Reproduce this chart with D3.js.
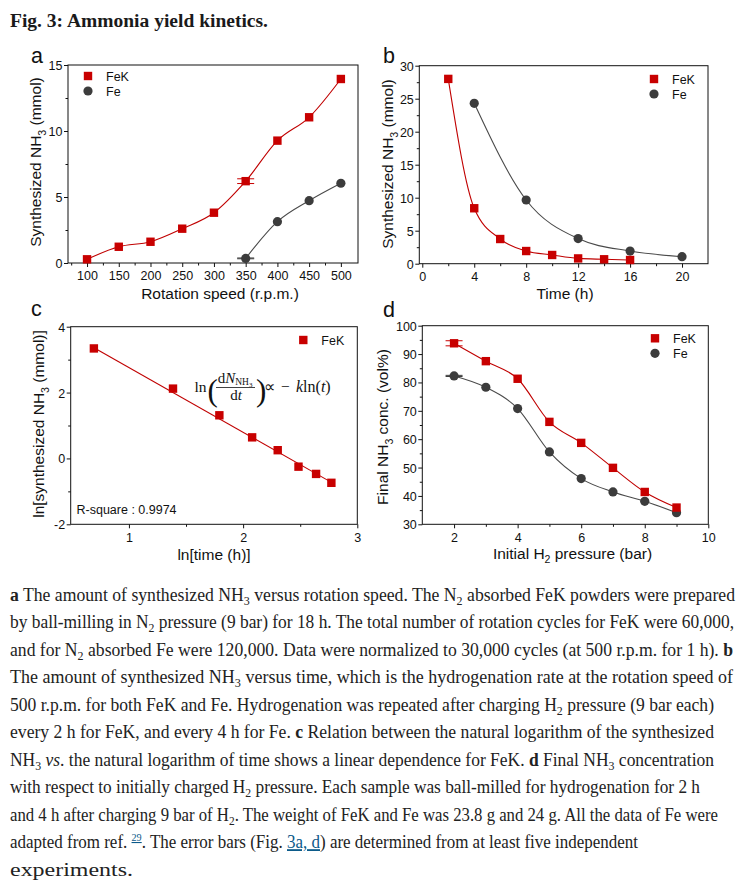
<!DOCTYPE html>
<html><head><meta charset="utf-8">
<script src="https://cdn.jsdelivr.net/npm/d3@7"></script>
<style>body{margin:0;background:#fff}svg{display:block}</style>
</head><body>
<svg id="fig" width="741" height="895"></svg>
<script>
// ---------------- data ----------------
// panel a
const aSpeedFeK = [100,150,200,250,300,350,400,450,500];
const aFeK      = [0.28,1.23,1.61,2.6,3.81,6.2,9.27,11.04,13.94];
const aSpeedFe  = [350,400,450,500];
const aFe       = [0.35,3.13,4.72,6.04];
const aErrX     = [350];
const aErrFeK   = [0.18];
const aErrFe    = [0.03];
const aXTicks   = [100,150,200,250,300,350,400,450,500];
const aYTicks   = [0,5,10,15];
// panel b
const bTimeFeK  = [2,4,6,8,10,12,14,16];
const bFeK      = [28.0,8.4,3.74,1.92,1.32,0.8,0.67,0.56];
const bTimeFe   = [4,8,12,16,20];
const bFe       = [24.3,9.65,3.8,1.92,1.06];
const bXTicks   = [0,4,8,12,16,20];
const bYTicks   = [0,5,10,15,20,25,30];
// panel c
const cLnTime   = [0.693,1.386,1.792,2.079,2.303,2.485,2.639,2.773];
const cLnNH3    = [3.34,2.12,1.31,0.64,0.25,-0.25,-0.47,-0.74];
const cFitX     = [0.69,2.77];
const cFitY     = [3.37,-0.72];
const cXTicks   = [1,2,3];
const cYTicks   = [-2,0,2,4];
// panel d
const dPressure = [2,3,4,5,6,7,8,9];
const dFeK      = [93.8,87.5,81.3,66.1,58.7,49.9,41.4,35.9];
const dFe       = [82.3,78.3,70.8,55.5,46.1,41.4,38.1,34.1];
const dErrX     = [2];
const dErrFeK   = [0.9];
const dErrFe    = [0.2];
const dXTicks   = [2,4,6,8,10];
const dYTicks   = [30,40,50,60,70,80,90,100];

// ---------------- style ----------------
const RED = "#c80000", RED_LINE = "#c00000", GREY = "#3c3c3c", GREY_LINE = "#4a4a4a";
const SANS = "'Liberation Sans', Arial, sans-serif";
const SERIF = "'Liberation Serif', 'Times New Roman', serif";
const svg = d3.select("#fig");

// title
svg.append("text").attr("x",10).attr("y",26.5)
  .attr("font-family",SERIF).attr("font-weight","bold").attr("font-size",18.5)
  .attr("fill","#1a1a1a").attr("textLength",258).attr("lengthAdjust","spacingAndGlyphs")
  .text("Fig. 3: Ammonia yield kinetics.");

function addText(g, x, y, parts, opts){
  const t = g.append("text").attr("x",x).attr("y",y)
    .attr("font-family",opts.family||SANS).attr("font-size",opts.size)
    .attr("fill",opts.fill||"#111");
  if(opts.anchor) t.attr("text-anchor",opts.anchor);
  if(opts.transform) t.attr("transform",opts.transform);
  const subShift = opts.subShift!==undefined ? opts.subShift : 0.3;
  let cur = 0;
  parts.forEach(p=>{
    const [kind,str] = p;
    let target = 0;
    const s = t.append("tspan").text(str);
    if(kind==="sub"){ target = opts.size*subShift; s.attr("font-size",opts.size*0.68); }
    if(kind==="sup"){ target = -opts.size*0.4; s.attr("font-size",opts.size*0.6); }
    if(kind==="b") s.attr("font-weight","bold");
    if(kind==="i") s.attr("font-style","italic");
    if(kind==="link"){ s.attr("fill","#0b5a8a").attr("text-decoration","underline"); }
    if(kind==="suplink"){ target = -opts.size*0.4; s.attr("font-size",opts.size*0.6).attr("fill","#0b5a8a").attr("text-decoration","underline"); }
    if(target!==cur){ s.attr("dy",target-cur); cur=target; }
  });
  return t;
}

function panel(o){
  const g = svg.append("g");
  const x = d3.scaleLinear().domain(o.xDomain).range([o.x0,o.x1]);
  const y = d3.scaleLinear().domain(o.yDomain).range([o.y1,o.y0]);
  const inside = (v,s,dm)=> Math.abs(s(v)-s(dm[0]))>2 && Math.abs(s(v)-s(dm[1]))>2;
  const xMinor = o.xMinor.filter(v=>inside(v,x,o.xDomain));
  const yMinor = o.yMinor.filter(v=>inside(v,y,o.yDomain));
  const gxm = g.append("g").attr("transform",`translate(0,${o.y1})`)
    .call(d3.axisBottom(x).tickValues(xMinor).tickSize(2.5).tickFormat(""));
  const gym = g.append("g").attr("transform",`translate(${o.x0},0)`)
    .call(d3.axisLeft(y).tickValues(yMinor).tickSize(2.5).tickFormat(""));
  const gx = g.append("g").attr("transform",`translate(0,${o.y1})`)
    .call(d3.axisBottom(x).tickValues(o.xTicks).tickSize(4).tickPadding(4.5).tickFormat(d=>String(d)));
  const gy = g.append("g").attr("transform",`translate(${o.x0},0)`)
    .call(d3.axisLeft(y).tickValues(o.yTicks).tickSize(4).tickPadding(1.5).tickFormat(d=>String(d)));
  [gxm,gym,gx,gy].forEach(a=>{
    a.select(".domain").remove();
    a.selectAll("line").attr("stroke","#111").attr("stroke-width",1);
    a.selectAll("text").attr("font-family",SANS).attr("font-size",12.5).attr("fill","#111");
  });
  gy.selectAll("text").attr("dy","0.36em");
  g.append("rect").attr("x",o.x0).attr("y",o.y0).attr("width",o.x1-o.x0).attr("height",o.y1-o.y0)
    .attr("fill","none").attr("stroke","#111").attr("stroke-width",1);
  addText(g, o.xTitlePos[0], o.xTitlePos[1], o.xTitle, {size:15.5, anchor:"middle"});
  addText(g, 0, 0, o.yTitle, {size:15.5, anchor:"middle",
    transform:`translate(${o.yTitlePos[0]},${o.yTitlePos[1]}) rotate(-90)`});
  g.append("text").attr("x",o.letterPos[0]).attr("y",o.letterPos[1])
    .attr("font-family",SANS).attr("font-size",21.5).attr("fill","#111").text(o.letter);
  return {g,x,y};
}

function square(g,cx,cy,col){ g.append("rect").attr("x",cx-4.2).attr("y",cy-4.2).attr("width",8.4).attr("height",8.4).attr("fill",col); }
function circle(g,cx,cy,col){ g.append("circle").attr("cx",cx).attr("cy",cy).attr("r",4.6).attr("fill",col); }

function series(p, xs, ys, col, lineCol, marker, curve){
  const pts = xs.map((v,i)=>[v,ys[i]]);
  p.g.append("path").datum(pts).attr("fill","none").attr("stroke",lineCol).attr("stroke-width",1.1)
    .attr("d", d3.line().x(d=>p.x(d[0])).y(d=>p.y(d[1])).curve(curve));
  pts.forEach(d=> marker(p.g, p.x(d[0]), p.y(d[1]), col));
}
function errbars(p, xs, ys, es, col){
  xs.forEach((v,i)=>{
    const cx=p.x(v), yt=p.y(ys[i]+es[i]), yb=p.y(ys[i]-es[i]);
    p.g.append("line").attr("x1",cx).attr("x2",cx).attr("y1",yt).attr("y2",yb).attr("stroke",col);
    [yt,yb].forEach(yy=> p.g.append("line").attr("x1",cx-8.5).attr("x2",cx+8.5).attr("y1",yy).attr("y2",yy).attr("stroke",col).attr("stroke-width",1));
  });
}
function legend(g, x, y, items){
  items.forEach((it,i)=>{
    const yy = y + i*15;
    (it.m==="s"?square:circle)(g, x, yy, it.c);
    g.append("text").attr("x",x+18).attr("y",yy+4.5).attr("font-family",SANS).attr("font-size",12.5).attr("fill","#111").text(it.t);
  });
}

// ---------------- panel a ----------------
const pa = panel({x0:68,x1:358,y0:65,y1:263, xDomain:[70,527], yDomain:[0,15],
  xTicks:aXTicks, yTicks:aYTicks, xMinor:[75,125,175,225,275,325,375,425,475,525], yMinor:[2.5,7.5,12.5],
  xTitle:[["n","Rotation speed (r.p.m.)"]], xTitlePos:[220,298.5],
  yTitle:[["n","Synthesized NH"],["sub","3"],["n"," (mmol)"]], yTitlePos:[41,162],
  letter:"a", letterPos:[31,62.5]});
errbars(pa, aErrX, [aFeK[5]], aErrFeK, RED);
errbars(pa, aErrX, [aFe[0]], aErrFe, GREY);
series(pa, aSpeedFeK, aFeK, RED, RED_LINE, square, d3.curveMonotoneX);
series(pa, aSpeedFe, aFe, GREY, GREY_LINE, circle, d3.curveMonotoneX);
legend(pa.g, 88, 76, [{m:"s",c:RED,t:"FeK"},{m:"c",c:GREY,t:"Fe"}]);

// ---------------- panel b ----------------
const pb = panel({x0:419.3,x1:708,y0:65.7,y1:263.7, xDomain:[-0.23,22], yDomain:[0,30],
  xTicks:bXTicks, yTicks:bYTicks, xMinor:[2,6,10,14,18,22], yMinor:[2.5,7.5,12.5,17.5,22.5,27.5],
  xTitle:[["n","Time (h)"]], xTitlePos:[565,299],
  yTitle:[["n","Synthesized NH"],["sub","3"],["n"," (mmol)"]], yTitlePos:[393,164],
  letter:"b", letterPos:[383,62.5]});
series(pb, bTimeFe, bFe, GREY, GREY_LINE, circle, d3.curveMonotoneX);
series(pb, bTimeFeK, bFeK, RED, RED_LINE, square, d3.curveMonotoneX);
legend(pb.g, 654, 79, [{m:"s",c:RED,t:"FeK"},{m:"c",c:GREY,t:"Fe"}]);

// ---------------- panel c ----------------
const pc = panel({x0:70.7,x1:357.3,y0:326.7,y1:524.3, xDomain:[0.49,3], yDomain:[-2,4],
  xTicks:cXTicks, yTicks:cYTicks, xMinor:[1.5,2.5], yMinor:[-1,1,3],
  xTitle:[["n","ln[time (h)]"]], xTitlePos:[214,560],
  yTitle:[["n","ln[synthesized NH"],["sub","3"],["n"," (mmol)]"]], yTitlePos:[44,424],
  letter:"c", letterPos:[31,315.5]});
pc.g.append("path").datum(cFitX.map((v,i)=>[v,cFitY[i]])).attr("fill","none").attr("stroke",RED_LINE).attr("stroke-width",1.1)
  .attr("d", d3.line().x(d=>pc.x(d[0])).y(d=>pc.y(d[1])));
cLnTime.forEach((v,i)=> square(pc.g, pc.x(v), pc.y(cLnNH3[i]), RED));
legend(pc.g, 303.3, 340, [{m:"s",c:RED,t:"FeK"}]);
pc.g.append("text").attr("x",76.5).attr("y",514).attr("font-family",SANS).attr("font-size",12.5).attr("fill","#111").text("R-square : 0.9974");
// equation
(function(){
  const g = pc.g, f = SERIF, c="#111";
  g.append("text").attr("x",194.5).attr("y",391.5).attr("font-family",f).attr("font-size",15.5).attr("fill",c).text("ln");
  g.append("text").attr("x",207.5).attr("y",400.5).attr("font-family",f).attr("font-size",31).attr("fill",c).text("(");
  const num = g.append("text").attr("x",235).attr("y",382.5).attr("text-anchor","middle").attr("font-family",f).attr("font-size",15).attr("fill",c);
  num.append("tspan").text("d");
  num.append("tspan").attr("font-style","italic").text("N");
  num.append("tspan").attr("font-size",9.5).attr("dy",2.5).text("NH");
  num.append("tspan").attr("font-size",7).attr("dy",1.5).text("3");
  g.append("line").attr("x1",216).attr("x2",255).attr("y1",387.5).attr("y2",387.5).attr("stroke",c).attr("stroke-width",0.8);
  const den = g.append("text").attr("x",236).attr("y",399.5).attr("text-anchor","middle").attr("font-family",f).attr("font-size",15).attr("fill",c);
  den.append("tspan").text("d");
  den.append("tspan").attr("font-style","italic").text("t");
  g.append("text").attr("x",256).attr("y",400.5).attr("font-family",f).attr("font-size",31).attr("fill",c).text(")");
  g.append("text").attr("x",264).attr("y",391.5).attr("font-family",f).attr("font-size",15.5).attr("fill",c).text("\u221D");
  g.append("text").attr("x",281).attr("y",391.5).attr("font-family",f).attr("font-size",15.5).attr("fill",c).text("\u2212");
  const r = g.append("text").attr("x",296).attr("y",391.5).attr("font-family",f).attr("font-size",16).attr("fill",c);
  r.append("tspan").attr("font-style","italic").text("k");
  r.append("tspan").text("ln(");
  r.append("tspan").attr("font-style","italic").text("t");
  r.append("tspan").text(")");
})();

// ---------------- panel d ----------------
const pd = panel({x0:422.3,x1:708.3,y0:325.7,y1:524.3, xDomain:[1,10], yDomain:[30,100],
  xTicks:dXTicks, yTicks:dYTicks, xMinor:[1,3,5,7,9], yMinor:[35,45,55,65,75,85,95],
  xTitle:[["n","Initial H"],["sub","2"],["n"," pressure (bar)"]], xTitlePos:[572.5,558.5],
  yTitle:[["n","Final NH"],["sub","3"],["n"," conc. (vol%)"]], yTitlePos:[388,427],
  letter:"d", letterPos:[383,316.5]});
errbars(pd, dErrX, [dFeK[0]], dErrFeK, RED);
errbars(pd, dErrX, [dFe[0]], dErrFe, GREY);
series(pd, dPressure, dFe, GREY, GREY_LINE, circle, d3.curveMonotoneX);
series(pd, dPressure, dFeK, RED, RED_LINE, square, d3.curveMonotoneX);
legend(pd.g, 655, 338.3, [{m:"s",c:RED,t:"FeK"},{m:"c",c:GREY,t:"Fe"}]);

// ---------------- caption ----------------
const captionLines = [
  [["b","a"],["n"," The amount of synthesized NH"],["sub","3"],["n"," versus rotation speed. The N"],["sub","2"],["n"," absorbed FeK powders were prepared"]],
  [["n","by ball-milling in N"],["sub","2"],["n"," pressure (9 bar) for 18 h. The total number of rotation cycles for FeK were 60,000,"]],
  [["n","and for N"],["sub","2"],["n"," absorbed Fe were 120,000. Data were normalized to 30,000 cycles (at 500 r.p.m. for 1 h). "],["b","b"]],
  [["n","The amount of synthesized NH"],["sub","3"],["n"," versus time, which is the hydrogenation rate at the rotation speed of"]],
  [["n","500 r.p.m. for both FeK and Fe. Hydrogenation was repeated after charging H"],["sub","2"],["n"," pressure (9 bar each)"]],
  [["n","every 2 h for FeK, and every 4 h for Fe. "],["b","c"],["n"," Relation between the natural logarithm of the synthesized"]],
  [["n","NH"],["sub","3"],["n"," "],["i","vs"],["n",". the natural logarithm of time shows a linear dependence for FeK. "],["b","d"],["n"," Final NH"],["sub","3"],["n"," concentration"]],
  [["n","with respect to initially charged H"],["sub","2"],["n"," pressure. Each sample was ball-milled for hydrogenation for 2 h"]],
  [["n","and 4 h after charging 9 bar of H"],["sub","2"],["n",". The weight of FeK and Fe was 23.8 g and 24 g. All the data of Fe were"]],
  [["n","adapted from ref. "],["suplink","29"],["n",". The error bars (Fig. "],["link","3a, d"],["n",") are determined from at least five independent"]],
  [["n","experiments."]]
];
const captionRight = [735,734,733,733,714,714,714,700,718,638,133];
captionLines.forEach((parts,i)=>{
  const t = addText(svg, 10, 600.7 + i*27.5, parts, {size:18, family:SERIF, fill:"#222", subShift:0.22});
  t.attr("textLength", captionRight[i]-10).attr("lengthAdjust","spacingAndGlyphs");
});
</script>
</body></html>
